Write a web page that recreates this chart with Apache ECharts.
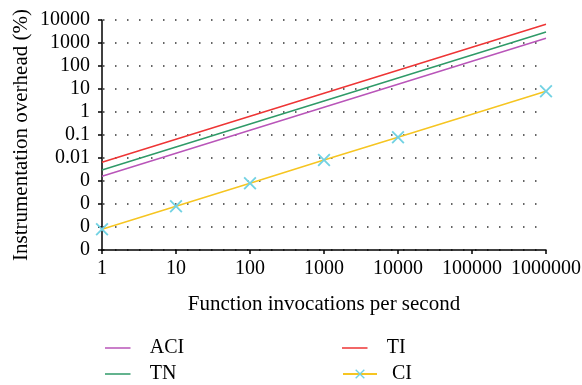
<!DOCTYPE html>
<html>
<head>
<meta charset="utf-8">
<script src="https://cdn.jsdelivr.net/npm/echarts@6/dist/echarts.min.js"></script>
<style>html,body{margin:0;padding:0;background:#fff}#c{width:582px;height:385px}</style>
</head>
<body>
<div id="c"></div>
<script>
// Data (log-log)
const xValues = [1, 10, 100, 1000, 10000, 100000, 1000000];
const aciValues = [0.0016, 0.016, 0.16, 1.6, 16, 160, 1600];
const tnValues = [0.003, 0.03, 0.3, 3, 30, 300, 3000];
const tiValues = [0.0065, 0.065, 0.65, 6.5, 65, 650, 6500];
const ciX = [1, 10, 100, 1000, 10000, 1000000];
const ciValues = [0.000008, 0.00008, 0.0008, 0.0082, 0.08, 8];
const seriesNames = ['ACI', 'TI', 'TN', 'CI'];

const FONT = 'Liberation Serif';
const pairs = (xs, ys) => xs.map((x, i) => [x, ys[i]]);
const xMark = 'path://M0,1L1,0L5,4L9,0L10,1L6,5L10,9L9,10L5,6L1,10L0,9L4,5Z';
const lineIcon = 'path://M0,0H34V2H0Z';

const chart = echarts.init(document.getElementById('c'), null, {renderer: 'canvas'});
const lineSeries = (name, data, color) => ({
  name, type: 'line', data, symbol: 'none', silent: true,
  lineStyle: {color, width: 1.5}, itemStyle: {color}
});
const legendText = {fontFamily: FONT, fontSize: 20, color: '#000', padding: [0, 0, 0, 10]};
const mkLegend = (name, left, top, isLine) => ({
  orient: 'vertical', left, top, padding: 0, itemWidth: 34, itemHeight: isLine ? 1.5 : 12,
  data: isLine ? [{name, icon: lineIcon}] : [name],
  textStyle: legendText, selectedMode: false
});
chart.setOption({
  animation: false,
  backgroundColor: '#fff',
  textStyle: {fontFamily: FONT},
  grid: {left: 102, right: 36, top: 20, bottom: 135, containLabel: false, outerBoundsMode: 'none'},
  xAxis: {
    type: 'log', logBase: 10, min: 1, max: 1000000, interval: 1,
    name: 'Function invocations per second', nameLocation: 'middle', nameGap: 44,
    nameMoveOverlap: false,
    nameTextStyle: {fontFamily: FONT, fontSize: 21, color: '#000'},
    axisLine: {lineStyle: {color: '#000', width: 1.5}},
    axisTick: {show: true, length: 4, lineStyle: {color: '#000', width: 1.5}},
    axisLabel: {fontFamily: FONT, fontSize: 20, color: '#000', margin: 9,
      formatter: v => String(Math.round(v))},
    splitLine: {show: false}, minorTick: {show: false}
  },
  yAxis: {
    type: 'log', logBase: 10, min: 0.000001, max: 10000, interval: 1,
    name: 'Instrumentation overhead (%)', nameLocation: 'middle', nameGap: 70,
    nameMoveOverlap: false,
    nameTextStyle: {fontFamily: FONT, fontSize: 21, color: '#000'},
    axisLine: {show: true, lineStyle: {color: '#000', width: 1.5}},
    axisTick: {show: true, length: 4, lineStyle: {color: '#000', width: 1.5}},
    axisLabel: {fontFamily: FONT, fontSize: 20, color: '#000', margin: 12,
      formatter: v => (v < 0.0099 ? '0' : String(parseFloat(Number(v).toPrecision(6))))},
    splitLine: {show: true, lineStyle: {color: '#333', width: 1.5, type: [1.5, 10.5], dashOffset: 11}}
  },
  legend: [
    mkLegend('ACI', 105, 338, true),
    mkLegend('TN', 105, 364, true),
    mkLegend('TI', 342, 338, true),
    mkLegend('CI', 342, 364, false)
  ],
  series: [
    lineSeries(seriesNames[0], pairs(xValues, aciValues), '#b955b9'),
    lineSeries(seriesNames[1], pairs(xValues, tiValues), '#ee3535'),
    lineSeries(seriesNames[2], pairs(xValues, tnValues), '#2f9a68'),
    {
      name: seriesNames[3], type: 'line', data: pairs(ciX, ciValues), silent: true,
      symbol: xMark, symbolSize: 13, showAllSymbol: true,
      lineStyle: {color: '#f6c521', width: 1.5},
      itemStyle: {color: '#72d2e3'}
    }
  ]
});
</script>
</body>
</html>
